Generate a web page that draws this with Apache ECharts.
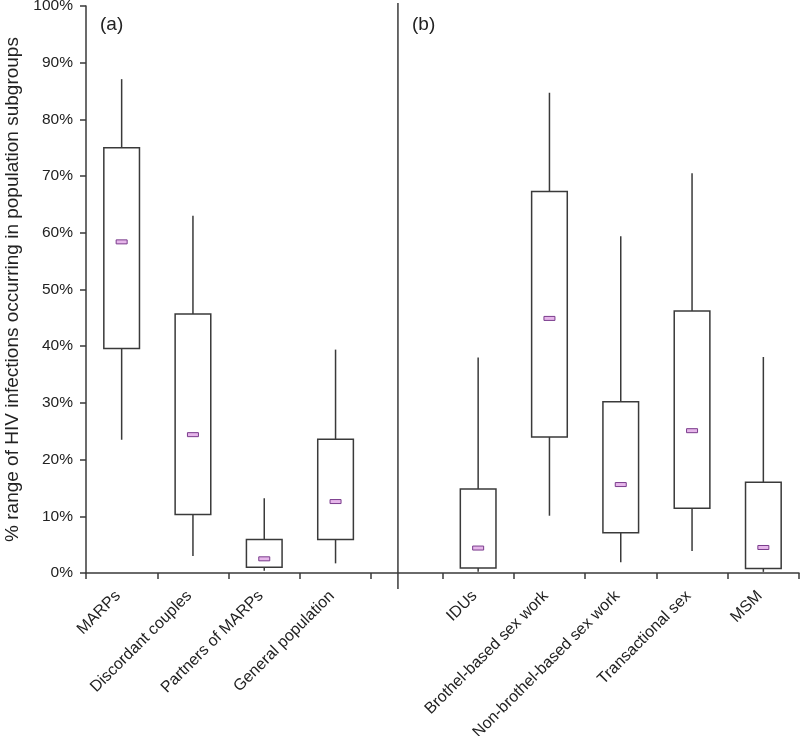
<!DOCTYPE html>
<html>
<head>
<meta charset="utf-8">
<script src="https://cdn.jsdelivr.net/npm/echarts@6/dist/echarts.min.js"></script>
<style>html,body{margin:0;padding:0;background:#fff}#c{width:800px;height:736px}</style>
</head>
<body>
<div id="c"></div>
<script>
const categories = ['MARPs', 'Discordant couples', 'Partners of MARPs', 'General population', '',
  'IDUs', 'Brothel-based sex work', 'Non-brothel-based sex work', 'Transactional sex', 'MSM'];
const whiskerLow  = [23.5, 3.0, 0.4, 1.7, null, 0.2, 10.1, 1.9, 3.9, 0.2];
const boxLow      = [39.6, 10.3, 1.0, 5.9, null, 0.9, 24.0, 7.1, 11.4, 0.8];
const median      = [58.4, 24.4, 2.5, 12.6, null, 4.4, 44.9, 15.6, 25.1, 4.5];
const boxHigh     = [75.0, 45.7, 5.9, 23.6, null, 14.8, 67.3, 30.2, 46.2, 16.0];
const whiskerHigh = [87.1, 63.0, 13.2, 39.4, null, 38.0, 84.7, 59.4, 70.5, 38.1];
const panelLabels = ['(a)', '(b)'];
const dividerCategory = 4;

const FONT = '"Liberation Sans", Arial, Helvetica, sans-serif';
const LINE = '#3a3a3a';

const boxData = [];
categories.forEach((c, i) => {
  if (median[i] != null) boxData.push([i, whiskerLow[i], boxLow[i], median[i], boxHigh[i], whiskerHigh[i]]);
});

const chart = echarts.init(document.getElementById('c'));
chart.setOption({
  animation: false,
  backgroundColor: '#fff',
  grid: { left: 86, right: 1, top: 6, bottom: 163, containLabel: false, outerBoundsMode: 'none' },
  xAxis: {
    type: 'category',
    data: categories,
    boundaryGap: true,
    axisLine: { lineStyle: { color: LINE, width: 1.5 } },
    axisTick: { show: true, alignWithLabel: false, length: 6, interval: 0, lineStyle: { color: LINE, width: 1.5 } },
    axisLabel: { rotate: 45, interval: 0, fontSize: 16, color: '#222', fontFamily: FONT, margin: 17, padding: [0, 5, 0, 0] },
    splitLine: { show: false }
  },
  yAxis: {
    type: 'value',
    min: 0, max: 100, interval: 10,
    name: '% range of HIV infections occurring in population subgroups',
    nameLocation: 'middle',
    nameRotate: 90,
    nameGap: 62,
    nameTextStyle: { fontSize: 19, color: '#222', fontFamily: FONT },
    axisLine: { show: true, lineStyle: { color: LINE, width: 1.5 } },
    axisTick: { show: true, length: 6, lineStyle: { color: LINE, width: 1.5 } },
    axisLabel: { formatter: '{value}%', fontSize: 15.5, color: '#222', fontFamily: FONT, margin: 13 },
    splitLine: { show: false }
  },
  graphic: [
    { type: 'text', left: 100, top: 15, style: { text: panelLabels[0], fill: '#222', font: '19px ' + FONT } },
    { type: 'text', left: 412, top: 15, style: { text: panelLabels[1], fill: '#222', font: '19px ' + FONT } }
  ],
  series: [
    {
      type: 'custom',
      clip: false,
      data: [[dividerCategory]],
      encode: { x: 0 },
      renderItem: function (params, api) {
        const band = api.size([1, 0])[0];
        const top = api.coord([api.value(0), 100]);
        const bot = api.coord([api.value(0), 0]);
        const x = top[0] - band * 0.125;
        return {
          type: 'line',
          shape: { x1: x, y1: top[1] - 3, x2: x, y2: bot[1] + 16 },
          style: { stroke: LINE, lineWidth: 1.5 }
        };
      }
    },
    {
      type: 'custom',
      clip: false,
      data: boxData,
      encode: { x: 0, y: [1, 2, 3, 4, 5] },
      renderItem: function (params, api) {
        const x = api.value(0);
        const pWL = api.coord([x, api.value(1)]);
        const pBL = api.coord([x, api.value(2)]);
        const pMed = api.coord([x, api.value(3)]);
        const pBH = api.coord([x, api.value(4)]);
        const pWH = api.coord([x, api.value(5)]);
        const band = api.size([1, 0])[0];
        const hw = band * 0.25;
        const cx = pMed[0];
        const ls = { stroke: LINE, lineWidth: 1.5 };
        return {
          type: 'group',
          children: [
            { type: 'line', shape: { x1: cx, y1: pWH[1], x2: cx, y2: pBH[1] }, style: ls },
            { type: 'line', shape: { x1: cx, y1: pBL[1], x2: cx, y2: pWL[1] }, style: ls },
            { type: 'rect', shape: { x: cx - hw, y: pBH[1], width: 2 * hw, height: pBL[1] - pBH[1] },
              style: { fill: '#fff', stroke: LINE, lineWidth: 1.5 } },
            { type: 'rect', shape: { x: cx - 5.5, y: pMed[1] - 2, width: 11, height: 4 },
              style: { fill: '#e6b6ea', stroke: '#7a3c8c', lineWidth: 1 } }
          ]
        };
      }
    }
  ]
});
</script>
</body>
</html>
